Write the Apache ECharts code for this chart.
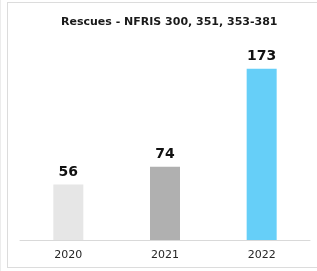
<!DOCTYPE html>
<html>
<head>
<meta charset="utf-8">
<script src="https://cdn.jsdelivr.net/npm/echarts@6/dist/echarts.min.js"></script>
<style>
  html, body { margin: 0; padding: 0; background: #fff; }
  .wrap { position: relative; width: 317px; height: 271px; overflow: hidden; }
  .edge { position: absolute; left: 0; top: 0; width: 1px; height: 271px; background: #ececec; }
  .card { position: absolute; left: 7px; top: 2px; width: 330px; height: 266px; border: 1px solid #dcdcdc; box-sizing: border-box; }
  #chart { position: absolute; left: 0; top: 0; width: 317px; height: 271px; }
</style>
</head>
<body>
<div class="wrap">
  <div class="edge"></div>
  <div class="card"></div>
  <div id="chart"></div>
</div>
<script>
const years = ['2020', '2021', '2022'];
const rescues = [56, 74, 173];
const barColors = ['#e6e6e6', '#b0b0b0', '#66cff8'];

const chart = echarts.init(document.getElementById('chart'));
chart.setOption({
  animation: false,
  title: {
    text: 'Rescues - NFRIS 300, 351, 353-381',
    left: 56,
    top: 12,
    textStyle: { fontFamily: 'DejaVu Sans', fontSize: 11, fontWeight: 'bold', color: '#1a1a1a' },
  },
  grid: { left: 20, right: 7, top: 42, bottom: 31 },
  xAxis: {
    type: 'category',
    data: years,
    axisLine: { lineStyle: { color: '#d9d9d9', width: 1 } },
    axisTick: { show: false },
    axisLabel: { margin: 10, fontFamily: 'DejaVu Sans', fontSize: 11, color: '#262626' },
  },
  yAxis: {
    type: 'value',
    min: 0,
    max: 200,
    show: false,
    splitLine: { show: false },
  },
  series: [{
    type: 'bar',
    barWidth: 30,
    data: rescues.map((v, i) => ({ value: v, itemStyle: { color: barColors[i] } })),
    label: {
      show: true,
      position: 'top',
      distance: 5,
      fontFamily: 'DejaVu Sans',
      fontSize: 14,
      fontWeight: 'bold',
      color: '#111',
    },
  }],
});
</script>
</body>
</html>
